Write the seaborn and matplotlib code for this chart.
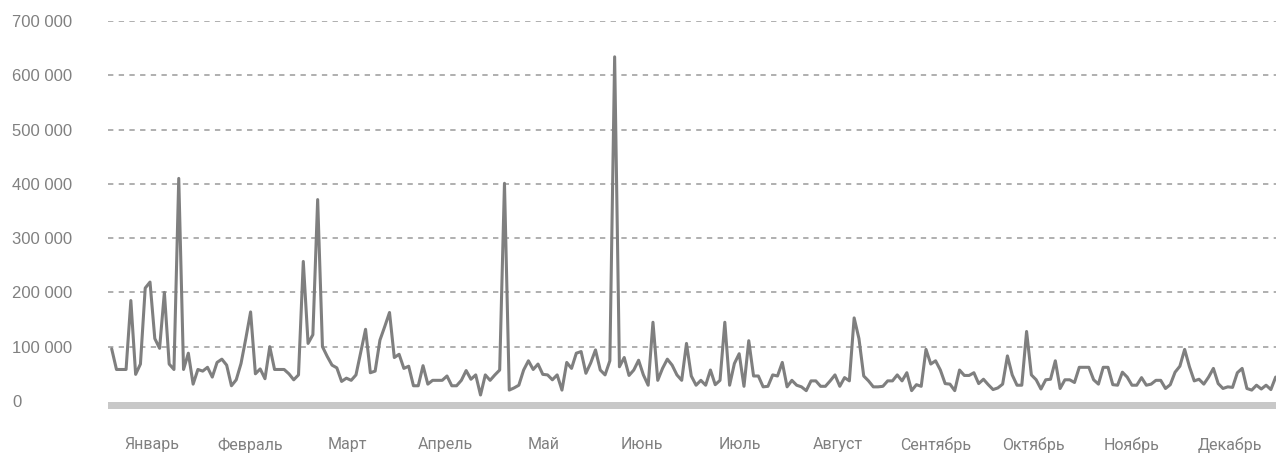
import numpy as np
import pandas as pd
import matplotlib
matplotlib.use('Agg')
import matplotlib.pyplot as plt
from matplotlib.ticker import FuncFormatter
import seaborn as sns

# значения по рабочим дням, тыс.
part1 = [96, 58, 58, 58, 185, 49, 68, 208, 219, 115, 97, 200, 68, 58, 410, 58, 88, 31, 58, 55,
         62, 44, 71, 77, 66, 28, 39, 69, 115, 164, 50, 59, 41, 100, 58, 58, 58, 50, 39, 48]
part2 = [257, 106, 122, 371, 100, 82, 66, 61, 36, 42, 38, 48, 90, 132, 52, 55, 112, 137, 163, 80,
         86, 60, 64, 28, 28, 65, 31, 38, 38, 38, 46, 28, 28, 38, 56, 40, 48, 11, 48]
part3 = [38, 48, 57, 401, 20, 24, 29, 57, 74, 58, 68, 49, 48, 39, 48, 20, 71, 60, 88, 91,
         51, 70, 94, 57, 48, 74, 634, 63, 80, 47, 57, 75, 48, 29, 145, 38, 60, 77, 66, 48]
part4 = [38, 106, 46, 29, 38, 29, 57, 30, 38, 145, 29, 69, 87, 27, 111, 46, 46, 26, 27, 48,
         46, 71, 26, 38, 29, 26, 19, 37, 37, 27, 27, 37, 48, 27, 43, 37, 153, 115, 46]
part5 = [37, 26, 26, 27, 37, 37, 48, 37, 52, 19, 30, 27, 95, 68, 74, 57, 32, 31, 19, 57,
         47, 47, 52, 32, 40, 30, 21, 24, 31, 83, 48, 29, 29, 128, 48, 39, 22, 39, 40, 74, 23]
part6 = [39, 39, 34, 62, 62, 62, 39, 31, 62, 62, 30, 29, 53, 44, 29, 29, 43, 29, 31, 38,
         38, 23, 30, 53, 64, 95, 63, 37, 40, 31, 44, 60, 32, 23, 26, 25, 52, 60, 23, 20,
         29, 22, 29, 21, 44]

months = ['Январь', 'Февраль', 'Март', 'Апрель', 'Май', 'Июнь',
          'Июль', 'Август', 'Сентябрь', 'Октябрь', 'Ноябрь', 'Декабрь']
y_ticks = [0, 100000, 200000, 300000, 400000, 500000, 600000, 700000]

values = np.array(part1 + part2 + part3 + part4 + part5 + part6) * 1000
df = pd.DataFrame({'day': np.arange(len(values)), 'value': values})

sns.set_style('white')
plt.rcParams['font.family'] = ['Liberation Sans', 'DejaVu Sans']

fig = plt.figure(figsize=(12.76, 4.57), dpi=100)
ax = fig.add_axes([108 / 1276, (457 - 411) / 457, 1 - 108 / 1276, (411 - 21) / 457])

# пунктирная сетка
for t in y_ticks[1:]:
    ax.axhline(t, color='#9a9a9a', lw=1.1, ls=(0, (3.5, 3.5)), zorder=1)
# серая полоса оси X
ax.axhspan(-14500, -1200, color='#c8c8c8', lw=0, zorder=1)

sns.lineplot(data=df, x='day', y='value', ax=ax, color='#7f7f7f', lw=2.2, zorder=3)

n = len(values)
ax.set_xlim(-0.77, n - 0.93)
ax.set_ylim(-18500, 700000)
for s in ax.spines.values():
    s.set_visible(False)

step = n / 11.93
ax.set_xticks(8.4 + step * np.arange(12))
ax.set_xticklabels(months, family=['Liberation Sans Narrow', 'Roboto', 'DejaVu Sans'])
ax.set_yticks(y_ticks)
ax.yaxis.set_major_formatter(FuncFormatter(lambda v, p: f'{int(v):,}'.replace(',', ' ')))
ax.tick_params(axis='x', length=0, pad=19, labelsize=11.5, labelcolor='#808080')
ax.tick_params(axis='y', length=0, pad=69, labelsize=12, labelcolor='#808080')
for lab in ax.get_yticklabels():
    lab.set_ha('left')
ax.set_xlabel('')
ax.set_ylabel('')

fig.savefig('out.png', dpi=100)
